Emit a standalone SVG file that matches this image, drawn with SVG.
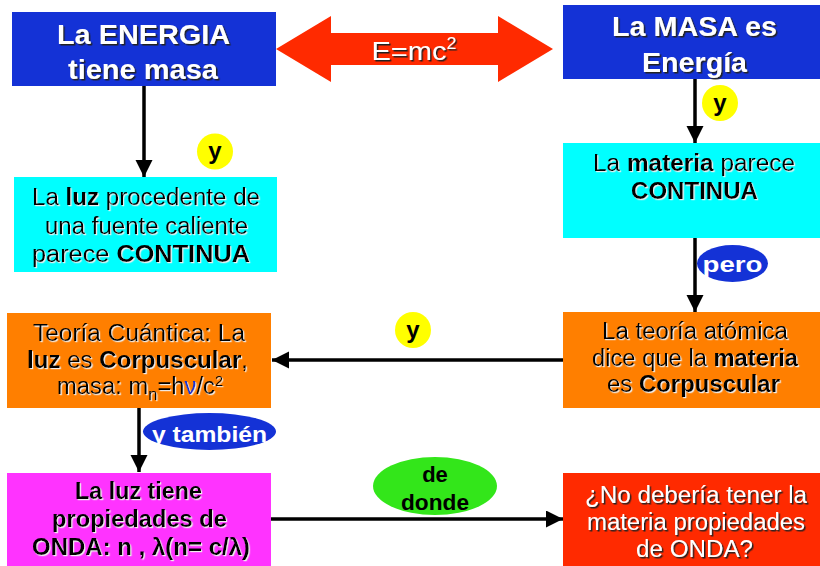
<svg xmlns="http://www.w3.org/2000/svg" width="820" height="566" viewBox="0 0 820 566">
<style>
text{font-family:"Liberation Sans",Arial,sans-serif;text-anchor:middle}
.t{font-size:28px;font-weight:bold;fill:#fff;filter:url(#dk)}
.b{font-size:23px;fill:#000;filter:url(#lt)}
.w{font-size:23px;fill:#fff;filter:url(#dk)}
.bd{font-weight:bold}
.lbl{font-size:22px;font-weight:bold}
.con{stroke:#000;stroke-width:3.5;fill:none;marker-end:url(#ah)}
</style>
<defs>
<filter id="lt" x="-5%" y="-20%" width="110%" height="140%"><feDropShadow dx="1.2" dy="1.2" stdDeviation="0.2" flood-color="#eeeeee"/></filter>
<filter id="dk" x="-5%" y="-20%" width="110%" height="140%"><feDropShadow dx="1.5" dy="1.5" stdDeviation="0.3" flood-color="#222"/></filter>
<marker id="ah" markerUnits="userSpaceOnUse" markerWidth="18" markerHeight="18" refX="17" refY="8.5" orient="auto"><path d="M0,0 L17,8.5 L0,17 Z" fill="#000"/></marker>
</defs>
<rect width="820" height="566" fill="#fff"/>

<g id="connectors">
<line class="con" x1="144" y1="86" x2="144" y2="177"/>
<line class="con" x1="695" y1="79" x2="695" y2="143"/>
<line class="con" x1="695" y1="238" x2="695" y2="312"/>
<line class="con" x1="563" y1="360" x2="272" y2="360"/>
<line class="con" x1="139" y1="408" x2="139" y2="472"/>
<line class="con" x1="270" y1="519" x2="563" y2="519"/>
</g>

<g id="emc2">
<path d="M276,49 L331,16 L331,33 L498,33 L498,16 L553,49 L498,82 L498,65 L331,65 L331,82 Z" fill="#ff2a00"/>
<text x="414" y="60" style="font-size:26px;fill:#fff;filter:url(#dk)" textLength="85" lengthAdjust="spacingAndGlyphs">E=mc<tspan dy="-11" style="font-size:16px">2</tspan></text>
</g>

<g id="energia">
<rect x="12" y="12" width="264" height="74" fill="#1432d6"/>
<text class="t" x="143.5" y="44" textLength="173" lengthAdjust="spacingAndGlyphs">La ENERGIA</text>
<text class="t" x="143" y="79" textLength="150" lengthAdjust="spacingAndGlyphs">tiene masa</text>
</g>

<g id="masa">
<rect x="563" y="5" width="257" height="74" fill="#1432d6"/>
<text class="t" x="694.5" y="36" textLength="165" lengthAdjust="spacingAndGlyphs">La MASA es</text>
<text class="t" x="694.5" y="72" textLength="105" lengthAdjust="spacingAndGlyphs">Energía</text>
</g>

<g id="luz-continua">
<rect x="14" y="177" width="263" height="95" fill="#00ffff"/>
<text class="b" x="146" y="205" textLength="228" lengthAdjust="spacingAndGlyphs">La <tspan class="bd">luz</tspan> procedente de</text>
<text class="b" x="146.5" y="234" textLength="203" lengthAdjust="spacingAndGlyphs">una fuente caliente</text>
<text class="b" x="141" y="262" textLength="218" lengthAdjust="spacingAndGlyphs">parece <tspan class="bd">CONTINUA</tspan></text>
</g>

<g id="materia-continua">
<rect x="563" y="143" width="257" height="95" fill="#00ffff"/>
<text class="b" x="694" y="171" textLength="202" lengthAdjust="spacingAndGlyphs">La <tspan class="bd">materia</tspan> parece</text>
<text class="b bd" x="694.5" y="199" textLength="127" lengthAdjust="spacingAndGlyphs">CONTINUA</text>
</g>

<g id="teoria-atomica">
<rect x="563" y="312" width="257" height="96" fill="#ff7f00"/>
<text class="b" x="695" y="339" textLength="186" lengthAdjust="spacingAndGlyphs">La teoría atómica</text>
<text class="b" x="695" y="366" textLength="206" lengthAdjust="spacingAndGlyphs">dice que la <tspan class="bd">materia</tspan></text>
<text class="b" x="693.5" y="392" textLength="173" lengthAdjust="spacingAndGlyphs">es <tspan class="bd">Corpuscular</tspan></text>
</g>

<g id="teoria-cuantica">
<rect x="7" y="313" width="264" height="95" fill="#ff7f00"/>
<text class="b" x="139" y="341" textLength="212" lengthAdjust="spacingAndGlyphs">Teoría Cuántica: La</text>
<text class="b" x="137.5" y="368" textLength="221" lengthAdjust="spacingAndGlyphs"><tspan class="bd">luz</tspan> es <tspan class="bd">Corpuscular</tspan>,</text>
<text class="b" x="140" y="394" textLength="166" lengthAdjust="spacingAndGlyphs">masa: m<tspan dy="6" style="font-size:16px">n</tspan><tspan dy="-6">=h</tspan><tspan fill="#1432d6">ν</tspan>/c<tspan dy="-8" style="font-size:14px">2</tspan></text>
</g>

<g id="onda">
<rect x="7" y="473" width="264" height="93" fill="#ff33ff"/>
<text class="b bd" x="138.5" y="499" textLength="127" lengthAdjust="spacingAndGlyphs">La luz tiene</text>
<text class="b bd" x="139.5" y="527" textLength="175" lengthAdjust="spacingAndGlyphs">propiedades de</text>
<text class="b bd" x="141" y="555" textLength="218" lengthAdjust="spacingAndGlyphs">ONDA: n , λ(n= c/λ)</text>
</g>

<g id="pregunta">
<rect x="563" y="473" width="257" height="93" fill="#ff2a00"/>
<text class="w" x="696" y="503" textLength="222" lengthAdjust="spacingAndGlyphs">¿No debería tener la</text>
<text class="w" x="696" y="530" textLength="218" lengthAdjust="spacingAndGlyphs">materia propiedades</text>
<text class="w" x="694.5" y="557" textLength="117" lengthAdjust="spacingAndGlyphs">de ONDA?</text>
</g>

<g id="y1">
<circle cx="215" cy="151.5" r="18" fill="#ffff00"/>
<text class="lbl" x="215" y="159" style="font-size:24px">y</text>
</g>
<g id="y2">
<circle cx="720" cy="103" r="18" fill="#ffff00"/>
<text class="lbl" x="720" y="110.5" style="font-size:24px">y</text>
</g>
<g id="y3">
<circle cx="413" cy="330" r="18" fill="#ffff00"/>
<text class="lbl" x="413" y="337.5" style="font-size:24px">y</text>
</g>
<g id="pero">
<ellipse cx="732.5" cy="263.5" rx="35.5" ry="18.5" fill="#1432d6"/>
<text class="lbl" x="732.5" y="272" fill="#fff" textLength="60" lengthAdjust="spacingAndGlyphs">pero</text>
</g>
<g id="y-tambien">
<ellipse cx="209.5" cy="431.5" rx="66.5" ry="18.5" fill="#1432d6"/>
<text class="lbl" x="209.5" y="442" fill="#fff" textLength="115" lengthAdjust="spacingAndGlyphs">y también</text>
</g>
<g id="de-donde">
<ellipse cx="435" cy="486" rx="62" ry="29" fill="#33e61a"/>
<text class="lbl" x="435" y="482">de</text>
<text class="lbl" x="435" y="510" textLength="68" lengthAdjust="spacingAndGlyphs">donde</text>
</g>
</svg>
